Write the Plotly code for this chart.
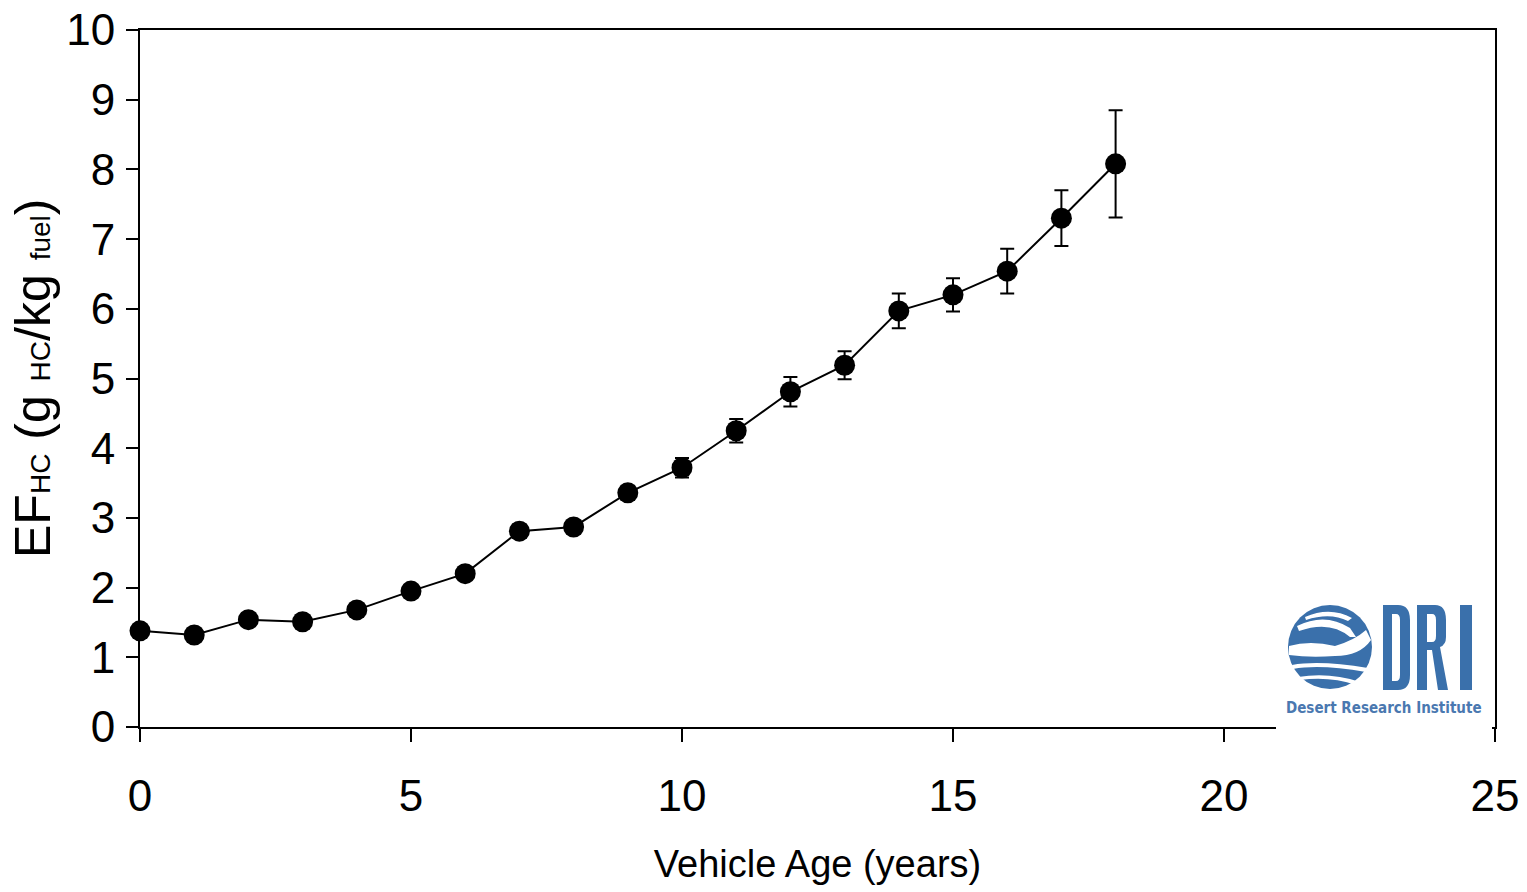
import plotly.graph_objects as go

# ---- data ----
vehicle_age = [0, 1, 2, 3, 4, 5, 6, 7, 8, 9, 10, 11, 12, 13, 14, 15, 16, 17, 18]
ef_hc = [1.38, 1.32, 1.54, 1.51, 1.68, 1.95, 2.20, 2.81, 2.87, 3.36, 3.72, 4.25,
         4.81, 5.19, 5.97, 6.20, 6.54, 7.30, 8.08]
ef_err = [0.05, 0.05, 0.05, 0.06, 0.06, 0.07, 0.08, 0.10, 0.09, 0.10, 0.14, 0.17,
          0.21, 0.20, 0.25, 0.24, 0.32, 0.40, 0.77]
x_ticks = [0, 5, 10, 15, 20, 25]
y_ticks = [0, 1, 2, 3, 4, 5, 6, 7, 8, 9, 10]

FONT = "Arial, Liberation Sans, sans-serif"
W, H = 1527, 892
ML, MR, MT, MB = 140, 32, 30, 165
PW, PH = W - ML - MR, H - MT - MB


def px(x):
    return (x - ML) / PW


def py(y):
    return (H - MB - y) / PH


fig = go.Figure()
fig.add_trace(go.Scatter(
    x=vehicle_age, y=ef_hc, mode="lines+markers",
    line=dict(color="black", width=2),
    marker=dict(color="black", size=21, symbol="circle"),
    error_y=dict(type="data", array=ef_err, visible=True, color="black",
                 thickness=2, width=7),
    cliponaxis=False, showlegend=False,
))

sub = '<span style="font-size:28px">%s</span>'
ytitle = "EF" + sub % "HC" + " (g " + sub % "HC" + "/kg " + sub % "fuel" + ")"

fig.update_layout(
    width=W, height=H,
    margin=dict(l=ML, r=MR, t=MT, b=MB, autoexpand=False),
    paper_bgcolor="white", plot_bgcolor="white",
    font=dict(family=FONT, color="black"),
    xaxis=dict(range=[0, 25], tickvals=x_ticks, ticktext=[str(v) for v in x_ticks],
               showgrid=False, zeroline=False, showline=True, linecolor="black",
               linewidth=2, mirror=True, ticks="outside", ticklen=13, tickwidth=2,
               tickcolor="black", tickfont=dict(size=44, family=FONT),
               ticklabelstandoff=16, automargin=False,
               title=dict(text="Vehicle Age (years)", font=dict(size=38, family=FONT),
                          standoff=32)),
    yaxis=dict(range=[0, 10], tickvals=y_ticks, ticktext=[str(v) for v in y_ticks],
               showgrid=False, zeroline=False, showline=True, linecolor="black",
               linewidth=2, mirror=True, ticks="outside", ticklen=12, tickwidth=2,
               tickcolor="black", tickfont=dict(size=44, family=FONT),
               ticklabelstandoff=2, automargin=False),
)

# y-axis title placed as a rotated annotation for exact positioning
fig.add_annotation(xref="paper", yref="paper", x=px(33), y=py(379),
                   xanchor="center", yanchor="middle", showarrow=False,
                   textangle=-90, text=ytitle,
                   font=dict(size=50, family=FONT, color="black"))

# ---- DRI logo (drawn with shapes) ----
BLUE = "#3a70ab"
shapes = []
# white box covering the axis
shapes.append(dict(type="rect", xref="paper", yref="paper", layer="above",
                   x0=px(1276), x1=px(1492), y0=py(733), y1=py(596),
                   fillcolor="white", line=dict(width=0)))
# globe
cx, cy, r = 1330, 647, 42
shapes.append(dict(type="circle", xref="paper", yref="paper", layer="above",
                   x0=px(cx - r), x1=px(cx + r), y0=py(cy + r), y1=py(cy - r),
                   fillcolor=BLUE, line=dict(width=0)))


def path(points_cmds):
    out = []
    for item in points_cmds:
        if isinstance(item, str):
            out.append(item)
        else:
            out.append("%.5f,%.5f" % (px(item[0]), py(item[1])))
    return " ".join(out)


# white swooshes on globe
swooshes = [
    # central band
    ["M", (1289, 646), "Q", (1310, 640), (1335, 646), "Q", (1355, 640), (1366, 630),
     "L", (1371, 640), "Q", (1360, 656), (1335, 656), "Q", (1310, 658), (1289, 655), "Z"],
    # upper swoosh
    ["M", (1297, 626), "Q", (1325, 612), (1350, 628), "L", (1356, 637),
     "L", (1350, 637), "Q", (1330, 620), (1299, 631), "Z"],
    ["M", (1305, 617), "Q", (1330, 606), (1352, 618), "L", (1348, 621),
     "Q", (1330, 612), (1306, 620), "Z"],
    # lower swooshes
    ["M", (1292, 665), "Q", (1320, 660), (1368, 668), "L", (1366, 672),
     "Q", (1320, 664), (1293, 669), "Z"],
    ["M", (1298, 677), "Q", (1330, 672), (1360, 682), "L", (1356, 685),
     "Q", (1330, 676), (1300, 680), "Z"],
]
for s in swooshes:
    shapes.append(dict(type="path", xref="paper", yref="paper", layer="above",
                       path=path(s), fillcolor="white", line=dict(width=0)))

# letters D R I
top, bot = 605, 690
D = ["M", (1383, top), "L", (1398, top), "Q", (1410, top), (1410, 620), "L", (1410, 675),
     "Q", (1410, bot), (1398, bot), "L", (1383, bot), "Z",
     "M", (1392, 614), "L", (1396, 614), "Q", (1400, 614), (1400, 620), "L", (1400, 675),
     "Q", (1400, 681), (1396, 681), "L", (1392, 681), "Z"]
R = ["M", (1417, top), "L", (1435, top), "Q", (1446, top), (1446, 620), "L", (1446, 637),
     "Q", (1446, 645), (1440, 647), "L", (1448, bot), "L", (1438, bot), "L", (1432, 650),
     "L", (1427, 650), "L", (1427, bot), "L", (1417, bot), "Z",
     "M", (1427, 614), "L", (1432, 614), "Q", (1436, 614), (1436, 620), "L", (1436, 636),
     "Q", (1436, 642), (1432, 642), "L", (1427, 642), "Z"]
I = ["M", (1460, top), "L", (1472, top), "L", (1472, bot), "L", (1460, bot), "Z"]
for s in (D, R, I):
    shapes.append(dict(type="path", xref="paper", yref="paper", layer="above",
                       path=path(s), fillcolor=BLUE, line=dict(width=0),
                       fillrule="evenodd"))

fig.update_layout(shapes=shapes)
fig.add_annotation(xref="paper", yref="paper", x=px(1384), y=py(708),
                   xanchor="center", yanchor="middle", showarrow=False,
                   text="<b>Desert Research Institute</b>",
                   font=dict(family="Liberation Sans Narrow, DejaVu Sans Condensed, Arial Narrow, sans-serif",
                             size=15, color="#4a78b0"))

fig.write_html("out.html")
